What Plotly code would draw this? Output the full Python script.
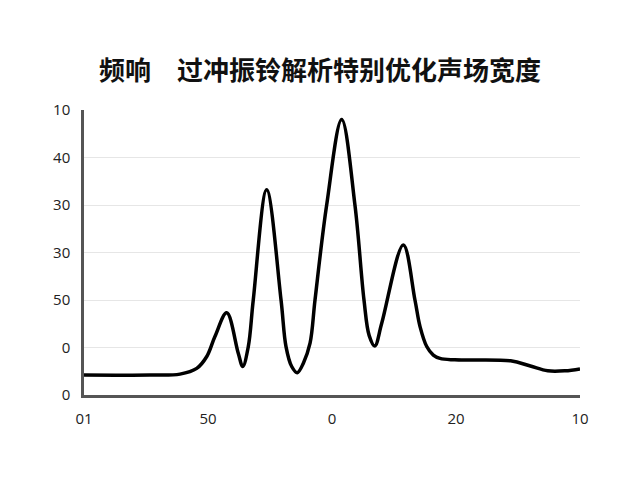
import plotly.graph_objects as go

# 曲线数据（从参考图读取，x 为 0~4 的刻度位置，y 为 0~6 的网格位置）
freq = [0.000, 0.532, 0.774, 0.909, 0.990, 1.056, 1.151, 1.244,
        1.280, 1.325, 1.365, 1.473, 1.589, 1.629,
        1.675, 1.720, 1.769, 1.823, 1.863, 1.957, 2.078,
        2.185, 2.258, 2.300, 2.345, 2.401,
        2.575, 2.669, 2.710, 2.764, 2.817, 2.871, 2.990, 3.440, 3.600,
        3.740, 3.880, 4.000]
level = [0.42, 0.42, 0.44, 0.56, 0.81, 1.23, 1.73, 0.88,
         0.60, 1.02, 2.00, 4.32, 2.00, 1.02,
         0.60, 0.47, 0.67, 1.09, 2.00, 4.00, 5.80,
         4.00, 2.00, 1.25, 1.03, 1.51,
         3.16, 2.00, 1.44, 1.02, 0.84, 0.77, 0.74, 0.72, 0.61,
         0.51, 0.51, 0.55]

x_ticks = [0, 1, 2, 3, 4]
x_labels = ['01', '50', '0', '20', '10']
y_ticks = [0, 1, 2, 3, 4, 5, 6]
y_labels = ['0', '0', '50', '30', '30', '40', '10']

title = '频响　过冲振铃解析特别优化声场宽度'

fig = go.Figure()
fig.add_trace(go.Scatter(x=freq, y=level, mode='lines',
                         line=dict(color='black', width=3.5, shape='spline', smoothing=1.0),
                         showlegend=False, hoverinfo='skip'))

# 页面自带 8px 边距，所以这里整体往左上挪一点
fig.update_layout(
    width=640, height=480,
    paper_bgcolor='white', plot_bgcolor='white',
    margin=dict(l=76, r=68, t=102, b=93),
    title=dict(text='<b>' + title + '</b>', x=0.4875, xanchor='center', y=0.87, yanchor='middle',
               font=dict(family='Noto Sans CJK SC', size=26, color='#111')),
    font=dict(family='Open Sans', size=15, color='#222'),
)
fig.update_xaxes(range=[0, 4], tickvals=x_ticks, ticktext=x_labels,
                 showgrid=False, zeroline=False, showline=True,
                 linecolor='#555', linewidth=2.5, ticks='', ticklabelstandoff=8)
fig.update_yaxes(range=[0, 6], tickvals=y_ticks, ticktext=y_labels,
                 showgrid=True, gridcolor='#e6e6e6', gridwidth=1,
                 zeroline=False, showline=True,
                 linecolor='#555', linewidth=2.5, ticks='', ticklabelstandoff=8)

fig.write_html("out.html")
